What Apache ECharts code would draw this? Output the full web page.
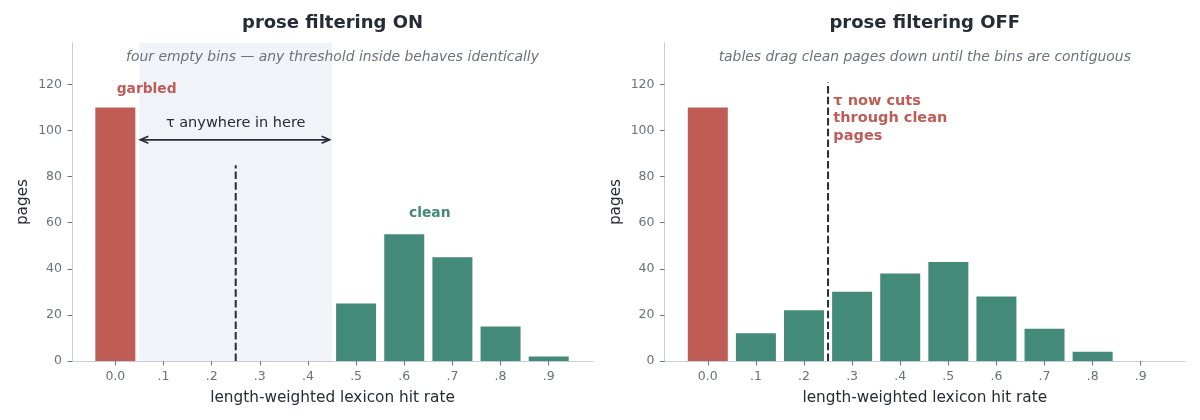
<!DOCTYPE html>
<html>
<head>
<meta charset="utf-8">
<script src="https://cdn.jsdelivr.net/npm/echarts@6/dist/echarts.min.js"></script>
<style>
html,body{margin:0;padding:0;background:#fff;}
#c{width:1200px;height:420px;}
</style>
</head>
<body>
<div id="c"></div>
<script>
// ---- data ----
const bins = [0.0, 0.1, 0.2, 0.3, 0.4, 0.5, 0.6, 0.7, 0.8, 0.9];
const tickLabels = ['0.0', '.1', '.2', '.3', '.4', '.5', '.6', '.7', '.8', '.9'];
const pagesOn  = [110, 0, 0, 0, 0, 25, 55, 45, 15, 2];
const pagesOff = [110, 12, 22, 30, 38, 43, 28, 14, 4, 0];
const garbledBins = [0.0];
const yTicks = [0, 20, 40, 60, 80, 100, 120];
const titles = ['prose filtering ON', 'prose filtering OFF'];
const subtitles = ['four empty bins — any threshold inside behaves identically',
                   'tables drag clean pages down until the bins are contiguous'];
const emptyBand = [0.05, 0.45];
const tauOn = 0.25, tauOnTop = 85;
const tauOff = 0.25, tauOffTop = 121;
const arrowSpan = [0.052, 0.445], arrowY = 96;

// ---- style ----
const RED = '#bf5c55', GREEN = '#448a78', DARK = '#262b36', GRAY = '#6c717a', AXIS = '#c7cdd4', BAND = '#f0f4f9';
const FONT = '"DejaVu Sans", sans-serif';
const XMIN = -0.090, XMAX = 0.992, YMAX = 138;

const chart = echarts.init(document.getElementById('c'), null, {renderer: 'canvas'});

const grids = [
  {left: 72, top: 43, width: 521, height: 318},
  {left: 664.5, top: 43, width: 520.5, height: 318}
];

function xAxis(i) {
  return {
    type: 'value', gridIndex: i, min: XMIN, max: XMAX,
    name: 'length-weighted lexicon hit rate', nameLocation: 'middle', nameGap: 30,
    nameTextStyle: {color: DARK, fontSize: 15.3, fontFamily: FONT},
    axisLine: {show: true, onZero: false, lineStyle: {color: AXIS, width: 1}},
    axisTick: {show: true, length: 4.5, lineStyle: {color: GRAY, width: 1}, customValues: bins},
    axisLabel: {color: GRAY, fontSize: 12.5, fontFamily: FONT, margin: 9, customValues: bins,
      formatter: v => { const k = bins.findIndex(b => Math.abs(b - v) < 1e-9); return k >= 0 ? tickLabels[k] : ''; }},
    splitLine: {show: false}
  };
}
function yAxis(i) {
  return {
    type: 'value', gridIndex: i, min: 0, max: YMAX,
    name: 'pages', nameLocation: 'middle', nameGap: 41, nameRotate: 90,
    nameTextStyle: {color: DARK, fontSize: 15.3, fontFamily: FONT},
    axisLine: {show: true, onZero: false, lineStyle: {color: AXIS, width: 1}},
    axisTick: {show: true, length: 4.5, lineStyle: {color: GRAY, width: 1}, customValues: yTicks},
    axisLabel: {color: GRAY, fontSize: 12.5, fontFamily: FONT, margin: 10, customValues: yTicks},
    splitLine: {show: false}
  };
}

function barSeries(i, values) {
  return {
    type: 'bar', xAxisIndex: i, yAxisIndex: i, barWidth: 40, z: 3,
    silent: true, animation: false,
    data: bins.map((b, k) => ({
      value: [b, values[k]],
      itemStyle: {color: garbledBins.includes(b) ? RED : GREEN}
    }))
  };
}

function dashedLine(api, x, top) {
  const p0 = api.coord([x, 0]), p1 = api.coord([x, top]);
  return {type: 'line', shape: {x1: p0[0], y1: p0[1], x2: p1[0], y2: p1[1]},
    style: {stroke: DARK, lineWidth: 2, lineDash: [7.5, 3.2]}};
}
function textEl(api, x, y, text, opt) {
  const p = api.coord([x, y]);
  return {type: 'text', x: p[0], y: p[1],
    style: Object.assign({text: text, fill: opt.color, fontSize: opt.size, fontWeight: opt.weight || 'normal',
      fontFamily: FONT, textAlign: opt.align || 'center', align: opt.align || 'center',
      textVerticalAlign: opt.valign || 'middle', verticalAlign: opt.valign || 'middle',
      lineHeight: opt.lineHeight || undefined})};
}

const bgOn = {
  type: 'custom', xAxisIndex: 0, yAxisIndex: 0, z: 1, silent: true, animation: false,
  data: [[0, 0]],
  renderItem: (params, api) => {
    const a = api.coord([emptyBand[0], YMAX]), b = api.coord([emptyBand[1], 0]);
    return {type: 'rect', shape: {x: a[0], y: a[1], width: b[0] - a[0], height: b[1] - a[1]}, style: {fill: BAND}};
  }
};
const fgOn = {
  type: 'custom', xAxisIndex: 0, yAxisIndex: 0, z: 5, silent: true, animation: false,
  data: [[0, 0]],
  renderItem: (params, api) => {
    const l = api.coord([arrowSpan[0], arrowY]), r = api.coord([arrowSpan[1], arrowY]);
    const hl = 8, hw = 3.5;
    return {type: 'group', children: [
      dashedLine(api, tauOn, tauOnTop),
      {type: 'line', shape: {x1: l[0], y1: l[1], x2: r[0], y2: r[1]}, style: {stroke: DARK, lineWidth: 1.7}},
      {type: 'polyline', shape: {points: [[l[0] + hl, l[1] - hw], [l[0], l[1]], [l[0] + hl, l[1] + hw]]}, style: {stroke: DARK, lineWidth: 1.7, fill: null}},
      {type: 'polyline', shape: {points: [[r[0] - hl, r[1] - hw], [r[0], r[1]], [r[0] - hl, r[1] + hw]]}, style: {stroke: DARK, lineWidth: 1.7, fill: null}},
      textEl(api, 0.25, 103, 'τ anywhere in here', {color: DARK, size: 14.5}),
      textEl(api, 0.065, 118, 'garbled', {color: RED, size: 13.8, weight: 'bold'}),
      textEl(api, 0.653, 64, 'clean', {color: GREEN, size: 13.8, weight: 'bold'})
    ]};
  }
};
const fgOff = {
  type: 'custom', xAxisIndex: 1, yAxisIndex: 1, z: 5, silent: true, animation: false,
  data: [[0, 0]],
  renderItem: (params, api) => ({type: 'group', children: [
    dashedLine(api, tauOff, tauOffTop),
    textEl(api, 0.261, 116.7, 'τ now cuts\nthrough clean\npages', {color: RED, size: 14.5, weight: 'bold', align: 'left', valign: 'top', lineHeight: 17.5})
  ]})
};

const graphics = [];
grids.forEach((g, i) => {
  const cx = g.left + g.width / 2;
  graphics.push({type: 'text', x: cx, y: 23, silent: true,
    style: {text: titles[i], fill: DARK, font: 'bold 18px ' + FONT, textAlign: 'center', textVerticalAlign: 'middle', align: 'center', verticalAlign: 'middle'}});
  graphics.push({type: 'text', x: cx, y: 57, silent: true, z: 10,
    style: {text: subtitles[i], fill: GRAY, font: 'italic 13.9px ' + FONT, textAlign: 'center', textVerticalAlign: 'middle', align: 'center', verticalAlign: 'middle'}});
});

chart.setOption({
  animation: false,
  backgroundColor: '#fff',
  grid: grids,
  xAxis: [xAxis(0), xAxis(1)],
  yAxis: [yAxis(0), yAxis(1)],
  series: [bgOn, barSeries(0, pagesOn), fgOn, barSeries(1, pagesOff), fgOff],
  graphic: graphics
});
</script>
</body>
</html>
